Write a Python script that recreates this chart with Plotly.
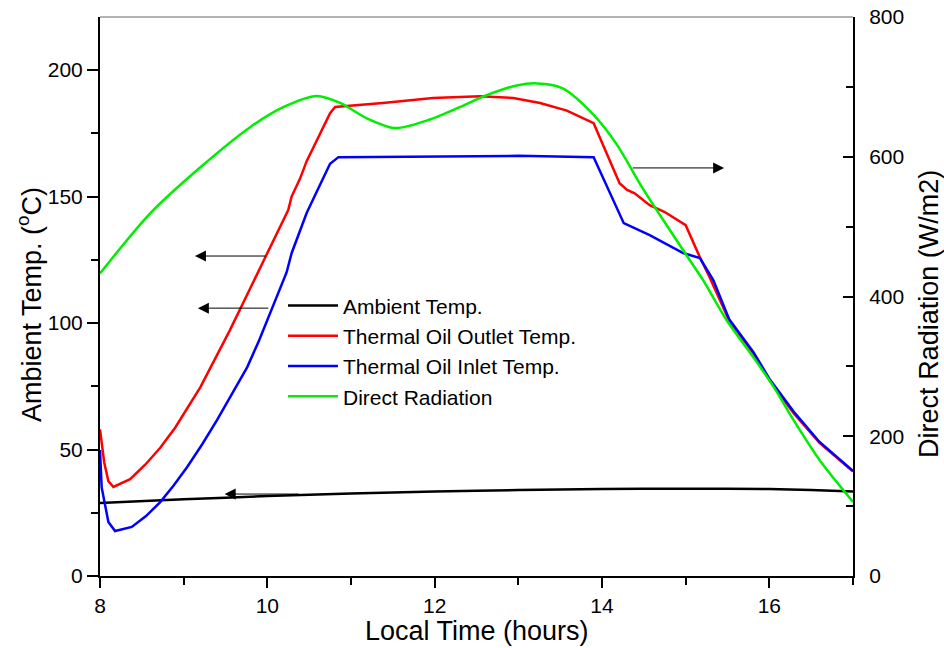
import plotly.graph_objects as go

FONT = "Liberation Sans, Arial, sans-serif"

# ---- data ----
amb_t = [8.0, 9.0, 10.0, 11.0, 12.0, 13.0, 14.0, 15.0, 16.0, 16.5, 17.0]
amb_v = [28.9, 30.3, 31.6, 32.6, 33.4, 34.0, 34.4, 34.5, 34.4, 34.0, 33.4]

out_t = [8.0, 8.05, 8.1, 8.16, 8.36, 8.54, 8.72, 8.9, 9.2, 9.37, 9.55, 9.77, 10.0, 10.25, 10.29,
         10.39, 10.47, 10.62, 10.75, 10.81,
         11.38, 11.98, 12.54, 12.94, 13.26, 13.58, 13.9, 14.21, 14.3, 14.39, 14.57, 14.75, 15.0,
         15.17, 15.29, 15.52, 15.81, 16.0, 16.29, 16.6, 17.0]
out_v = [58, 45, 37.5, 35.2, 38.3, 44, 50.7, 58.7, 74.7, 85.5, 97, 112, 127.7, 144.7, 150,
         157, 164, 174, 183, 185.4,
         187, 189, 189.7, 189, 187, 184, 179, 155.3, 152.6, 151.3, 146.6, 143.9, 138.7,
         126, 117.8, 101, 88, 77.5, 64.4, 52.6, 41.3]

in_t = [8.0, 8.02, 8.1, 8.18, 8.38, 8.55, 8.72, 8.88, 9.04, 9.22, 9.4, 9.58, 9.76, 9.9, 10.0,
        10.23, 10.29, 10.47, 10.62, 10.75, 10.85,
        12.0, 13.0, 13.9, 14.26, 14.57, 14.97, 15.17, 15.33, 15.52, 15.81, 16.0, 16.29, 16.6, 17.0]
in_v = [49.8, 35, 21.4, 17.8, 19.4, 23.7, 29.2, 35.8, 43, 52, 61.7, 72, 82.6, 93, 101,
        120, 127.6, 143.5, 154, 163, 165.6,
        166.0, 166.1, 165.6, 139.5, 134.8, 127.7, 125.7, 117, 101.5, 88.5, 78, 65, 53, 41.6]

rad_t = [8.0, 8.6, 9.2, 9.79, 10.19, 10.59, 10.87, 11.19, 11.53, 11.91, 12.3, 12.62, 12.98, 13.22,
         13.53, 13.9, 14.18, 14.45, 14.63, 15.01, 15.21, 15.49, 15.81, 16.05, 16.29, 16.6, 17.0]
rad_v = [433, 519, 585, 642, 671, 687, 677, 655, 641, 652, 671, 688, 702, 705,
         698, 660, 617, 562, 528, 459, 423, 366, 313, 271, 223, 166, 106]

x_ticks = [8, 10, 12, 14, 16]
y1_ticks = [0, 50, 100, 150, 200]
y2_ticks = [0, 200, 400, 600, 800]

x_title = "Local Time (hours)"
y1_title = "Ambient Temp. (<sup>o</sup>C)"
y2_title = "Direct Radiation (W/m2)"

fig = go.Figure()
fig.add_trace(go.Scatter(x=amb_t, y=amb_v, mode="lines", name="Ambient Temp.",
                         line=dict(color="#000000", width=2.5, shape="spline", smoothing=0.6)))
fig.add_trace(go.Scatter(x=out_t, y=out_v, mode="lines", name="Thermal Oil Outlet Temp.",
                         line=dict(color="#ff0000", width=2.5)))
fig.add_trace(go.Scatter(x=in_t, y=in_v, mode="lines", name="Thermal Oil Inlet Temp.",
                         line=dict(color="#0000ff", width=2.5)))
fig.add_trace(go.Scatter(x=rad_t, y=rad_v, mode="lines", name="Direct Radiation", yaxis="y2",
                         line=dict(color="#00ee00", width=2.5, shape="spline", smoothing=0.8)))

tickfont = dict(family=FONT, size=21, color="#000000")
titlefont = dict(family=FONT, size=27, color="#000000")

fig.update_layout(
    width=944, height=648,
    margin=dict(l=100, r=91, t=17, b=72, autoexpand=False),
    paper_bgcolor="white", plot_bgcolor="white",
    font=dict(family=FONT, color="#000000"),
    showlegend=True,
    legend=dict(x=0.243, y=0.52, xanchor="left", yanchor="top",
                font=dict(family=FONT, size=21, color="#000000"),
                bgcolor="rgba(0,0,0,0)", borderwidth=0, tracegroupgap=0,
                itemwidth=50),
    xaxis=dict(range=[8, 17], tickvals=x_ticks, ticktext=[str(v) for v in x_ticks],
               showgrid=False, zeroline=False, showline=True, linecolor="#000000", linewidth=2,
               ticks="outside", ticklen=10, tickwidth=2, tickcolor="#000000",
               minor=dict(dtick=1, tick0=9, ticks="outside", ticklen=7, tickwidth=2, tickcolor="#000000"),
               tickfont=tickfont, automargin=False),
    yaxis=dict(range=[0, 221], tickvals=y1_ticks, ticktext=[str(v) for v in y1_ticks],
               showgrid=False, zeroline=False, showline=True, linecolor="#000000", linewidth=2,
               ticks="outside", ticklen=11, tickwidth=2, tickcolor="#000000",
               minor=dict(dtick=25, tick0=25, ticks="outside", ticklen=7, tickwidth=2, tickcolor="#000000"),
               tickfont=tickfont, automargin=False),
    yaxis2=dict(range=[0, 800], tickvals=y2_ticks, ticktext=[str(v) for v in y2_ticks],
                overlaying="y", side="right", anchor="x",
                showgrid=False, zeroline=False, showline=True, linecolor="#000000", linewidth=2,
                ticks="inside", ticklen=10, tickwidth=2, tickcolor="#000000",
                minor=dict(dtick=100, tick0=100, ticks="inside", ticklen=7, tickwidth=2, tickcolor="#000000"),
                tickfont=tickfont, automargin=False, ticklabelstandoff=10),
    shapes=[dict(type="line", xref="paper", yref="paper", x0=0, x1=1, y0=1, y1=1,
                 line=dict(color="#666666", width=1))],
)

# axis titles
fig.add_annotation(text=x_title, xref="paper", yref="paper", x=0.5, y=-0.099,
                   xanchor="center", yanchor="middle", showarrow=False, font=titlefont)
fig.add_annotation(text=y1_title, xref="paper", yref="paper", x=-0.094, y=0.485, textangle=-90,
                   xanchor="center", yanchor="middle", showarrow=False, font=titlefont)
fig.add_annotation(text=y2_title, xref="paper", yref="paper", x=1.101, y=0.469, textangle=-90,
                   xanchor="center", yanchor="middle", showarrow=False, font=titlefont)

arrow = dict(showarrow=True, arrowhead=2, arrowsize=2.2, arrowwidth=1, arrowcolor="#000000", text="")
fig.add_annotation(x=9.135, y=126.5, ax=9.996, ay=126.5, xref="x", yref="y", axref="x", ayref="y", **arrow)
fig.add_annotation(x=9.17, y=105.9, ax=10.03, ay=105.9, xref="x", yref="y", axref="x", ayref="y", **arrow)
fig.add_annotation(x=9.49, y=32.4, ax=10.39, ay=32.4, xref="x", yref="y", axref="x", ayref="y", **arrow)
fig.add_annotation(x=15.46, y=584, ax=14.35, ay=584, xref="x", yref="y2", axref="x", ayref="y2", **arrow)

fig.write_html("out.html")
